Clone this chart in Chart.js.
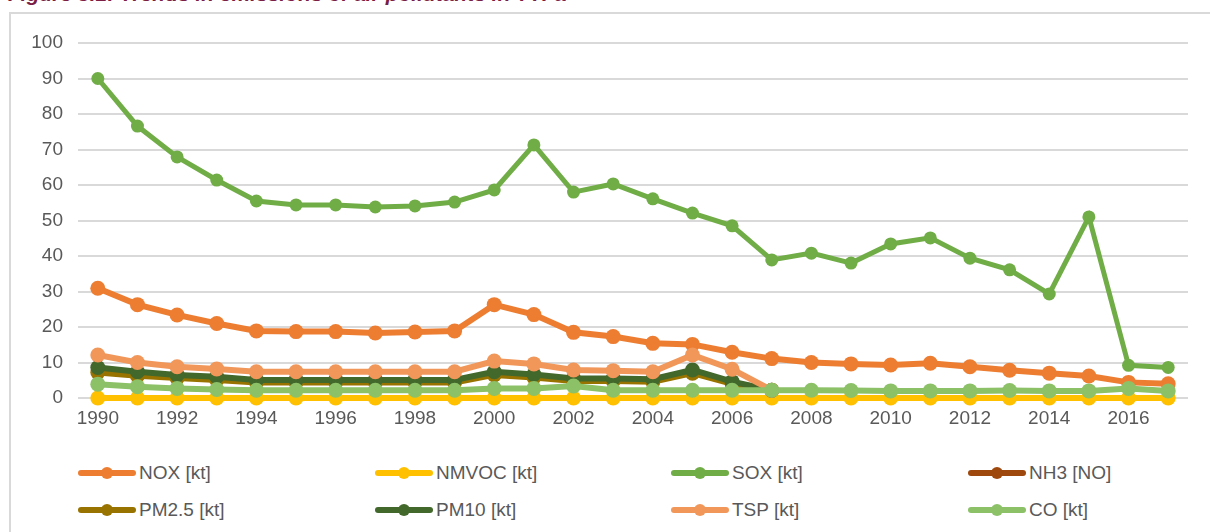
<!DOCTYPE html>
<html>
<head>
<meta charset="utf-8">
<script src="https://cdn.jsdelivr.net/npm/chart.js@4.4.1/dist/chart.umd.min.js"></script>
<style>
    body { margin: 0; background: #fff; font-family: "Liberation Sans", Arial, sans-serif; }
    #wrap { position: relative; width: 1210px; height: 532px; overflow: hidden; }
    #title { position: absolute; left: 8px; top: -18px; font-size: 21px; font-weight: bold; font-style: italic; color: #7b1e45; white-space: nowrap; }
    #frame { position: absolute; left: 9px; top: 12px; width: 1210px; height: 600px; border: 2px solid #d9d9d9; box-sizing: border-box; }
    #chart { position: absolute; left: 0; top: 0; }
    .item { position: absolute; display: flex; align-items: center; font-size: 19px; color: #595959; height: 24px; margin-top: -12px; }
    .swatch { position: relative; width: 58px; height: 14px; margin-right: 3px; }
    .swatch .ln { position: absolute; left: 0; right: 0; top: 4px; height: 6px; border-radius: 3px; }
    .swatch .dot { position: absolute; left: 23px; top: 1px; width: 12px; height: 12px; border-radius: 50%; }
</style>
</head>
<body>
<div id="wrap">
    <div id="title">Figure 3.1: Trends in emissions of air pollutants in TTFa</div>
    <div id="frame"></div>
    <canvas id="chart" width="1210" height="440"></canvas>
    <div id="legend"></div>
</div>
<script>
// Years on the x axis
const years = [1990, 1991, 1992, 1993, 1994, 1995, 1996, 1997, 1998, 1999,
    2000, 2001, 2002, 2003, 2004, 2005, 2006, 2007, 2008, 2009,
    2010, 2011, 2012, 2013, 2014, 2015, 2016, 2017];

// Series values (kt)
const nox = [30.9, 26.3, 23.4, 21.0, 18.9, 18.7, 18.7, 18.3, 18.6, 18.9,
    26.3, 23.5, 18.5, 17.3, 15.4, 15.1, 12.9, 11.1, 10.0, 9.6,
    9.3, 9.8, 8.8, 7.8, 7.0, 6.2, 4.4, 4.0];
const nmvoc = [0, 0, 0, 0, 0, 0, 0, 0, 0, 0,
    0, 0, 0, 0, 0, 0, 0, 0, 0, 0,
    0, 0, 0, 0, 0, 0, 0, 0];
const sox = [90.0, 76.6, 67.9, 61.4, 55.5, 54.4, 54.4, 53.8, 54.1, 55.2,
    58.6, 71.3, 58.0, 60.3, 56.1, 52.1, 48.5, 38.9, 40.8, 38.0,
    43.4, 45.1, 39.4, 36.1, 29.3, 51.0, 9.2, 8.6];
const nh3 = [null, null, null, null, null, null, null, null, null, null,
    null, null, null, null, null, null, null, null, null, null,
    null, null, null, null, null, null, null, null];
const pm25 = [7.2, 6.3, 5.6, 5.1, 4.4, 4.4, 4.4, 4.4, 4.4, 4.4,
    6.5, 5.8, 4.8, 4.8, 4.6, 7.0, 4.0, 2.2, null, null,
    null, null, null, null, null, null, null, null];
const pm10 = [8.6, 7.4, 6.5, 6.0, 5.1, 5.1, 5.1, 5.1, 5.1, 5.1,
    7.4, 6.6, 5.5, 5.5, 5.3, 7.9, 4.6, 2.2, null, null,
    null, null, null, null, null, null, null, null];
const tsp = [12.1, 10.0, 8.8, 8.2, 7.4, 7.4, 7.4, 7.4, 7.4, 7.4,
    10.4, 9.6, 7.9, 7.7, 7.4, 12.1, 8.1, 2.2, null, null,
    null, null, null, null, null, null, null, null];
const co = [3.9, 3.2, 2.7, 2.4, 2.2, 2.2, 2.2, 2.2, 2.2, 2.2,
    2.7, 2.7, 3.4, 2.2, 2.2, 2.2, 2.2, 2.2, 2.2, 2.1,
    2.0, 2.0, 2.0, 2.1, 2.0, 2.0, 2.7, 2.0];

const yTicks = [0, 10, 20, 30, 40, 50, 60, 70, 80, 90, 100];

const seriesNames = ['NOX [kt]', 'NMVOC [kt]', 'SOX [kt]', 'NH3 [NO]', 'PM2.5 [kt]', 'PM10 [kt]', 'TSP [kt]', 'CO [kt]'];
const seriesData = [nox, nmvoc, sox, nh3, pm25, pm10, tsp, co];
const seriesColors = ['#ed7d31', '#ffc000', '#70ad47', '#9e480e', '#997300', '#43682b', '#f1975a', '#8cc168'];

const gridColor = '#d9d9d9';
const textColor = '#595959';

const datasets = seriesData.map((data, i) => ({
    label: seriesNames[i],
    data: data,
    borderColor: seriesColors[i],
    backgroundColor: seriesColors[i],
    borderWidth: i === 2 ? 5 : 6,
    pointRadius: i === 2 ? 6.5 : 7.5,
    pointBorderWidth: 0,
    pointHoverRadius: 7.5,
    tension: 0,
    spanGaps: false,
    clip: false,
    order: seriesData.length - i // later series drawn on top, like the original
}));

new Chart(document.getElementById('chart'), {
    type: 'line',
    data: { labels: years, datasets: datasets },
    options: {
        responsive: false,
        animation: false,
        layout: { padding: { left: 20, right: 22, top: 43, bottom: 2 } },
        plugins: { legend: { display: false }, tooltip: { enabled: false } },
        scales: {
            x: {
                offset: true,
                grid: { display: false, drawTicks: false },
                border: { display: false },
                afterFit: (scale) => { scale.height = 40; },
                ticks: {
                    autoSkip: false,
                    maxRotation: 0,
                    padding: 9,
                    color: textColor,
                    font: { family: '"Liberation Sans", Arial, sans-serif', size: 19 },
                    callback: (v, i) => (i % 2 === 0 ? years[i] : '')
                }
            },
            y: {
                min: yTicks[0],
                max: yTicks[yTicks.length - 1],
                afterFit: (scale) => { scale.width = 58; },
                afterBuildTicks: (scale) => { scale.ticks = yTicks.map(v => ({ value: v })); },
                grid: { color: gridColor, lineWidth: 2, drawTicks: false },
                border: { display: false },
                ticks: {
                    padding: 15,
                    color: textColor,
                    font: { family: '"Liberation Sans", Arial, sans-serif', size: 19 }
                }
            }
        }
    }
});

// HTML legend in a 4 x 2 grid
const legend = document.getElementById('legend');
const colX = [78, 375, 671, 968];
const rowY = [473, 510];
seriesNames.forEach((name, i) => {
    const item = document.createElement('div');
    item.className = 'item';
    item.style.left = colX[i % 4] + 'px';
    item.style.top = rowY[Math.floor(i / 4)] + 'px';
    item.innerHTML = `<div class="swatch"><div class="ln" style="background:${seriesColors[i]}"></div>
        <div class="dot" style="background:${seriesColors[i]}"></div></div><span>${name}</span>`;
    legend.appendChild(item);
});
</script>
</body>
</html>
